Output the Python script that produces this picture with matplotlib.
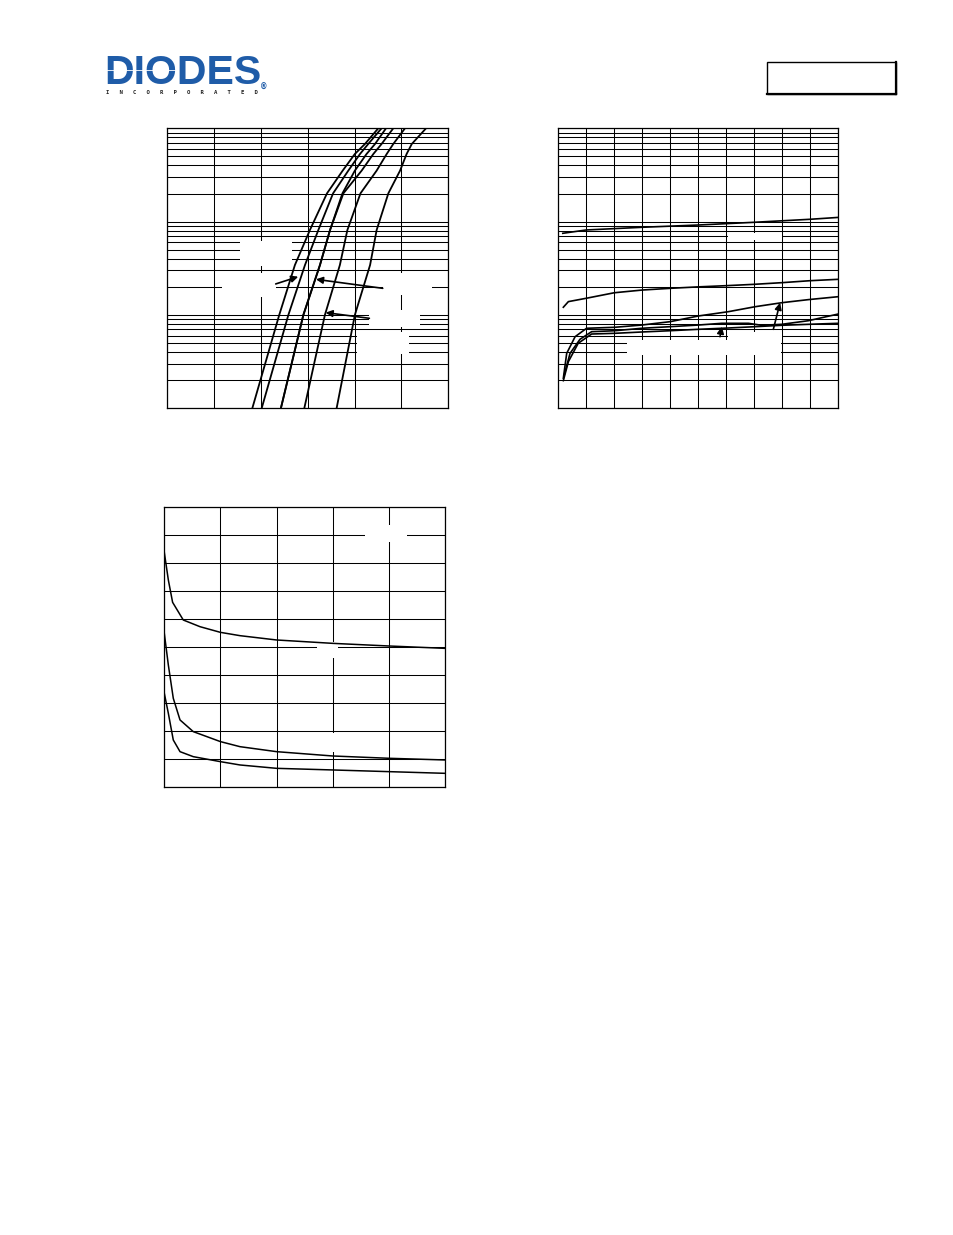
import matplotlib
matplotlib.use('Agg')
import matplotlib.pyplot as plt
from matplotlib.patches import Rectangle
from matplotlib.lines import Line2D
from matplotlib.ticker import LogLocator, MultipleLocator, NullFormatter

W, H = 954, 1235

# ---------------- data ----------------
# Chart 1: forward current (log) vs forward voltage, six curves
c1_current = [1, 10, 34.3, 81.3, 201, 352, 531, 679, 1000]
c1_vf_1 = [0.363, 0.478, 0.545, 0.609, 0.682, 0.749, 0.801, 0.844, 0.901]
c1_vf_2 = [0.403, 0.517, 0.588, 0.645, 0.708, 0.773, 0.823, 0.858, 0.915]
c1_vf_3 = [0.485, 0.581, 0.652, 0.695, 0.748, 0.801, 0.851, 0.887, 0.934]
c1_vf_4 = [0.485, 0.581, 0.652, 0.695, 0.752, 0.830, 0.880, 0.915, 0.965]
c1_vf_5 = [0.585, 0.673, 0.737, 0.769, 0.825, 0.894, 0.937, 0.965, 1.015]
c1_vf_6 = [0.723, 0.801, 0.866, 0.894, 0.944, 0.994, 1.022, 1.044, 1.105]

# Chart 2: five curves on log axis
c2_a_x = [1.6, 10, 30, 50, 70, 90, 100]
c2_a_y = [7.5, 8.14, 8.7, 9.2, 9.84, 10.6, 11.1]
c2_b_x = [1.8, 3.6, 10, 20, 30, 40, 50, 60, 70, 80, 90, 100]
c2_b_y = [1.21, 1.39, 1.51, 1.73, 1.85, 1.93, 2.0, 2.06, 2.13, 2.22, 2.33, 2.41]
c2_c_x = [1.8, 3.0, 6.0, 10.1, 20.2, 29.8, 39.9, 50, 60.7, 70.3, 79.8, 89.3, 100]
c2_c_y = [0.21, 0.388, 0.585, 0.72, 0.738, 0.78, 0.847, 0.975, 1.084, 1.226, 1.353, 1.46, 1.57]
c2_d_x = [2.1, 4.2, 7.75, 11.9, 20.2, 29.8, 39.9, 50, 58.4, 67.9, 72.6, 79.8, 89.3, 100]
c2_d_y = [0.227, 0.388, 0.549, 0.662, 0.678, 0.72, 0.749, 0.78, 0.814, 0.814, 0.775, 0.794, 0.868, 1.024]
c2_e_x = [1.8, 3.6, 7.1, 11.9, 20.2, 29.8, 39.9, 50, 60.7, 70.3, 79.8, 89.3, 100]
c2_e_y = [0.198, 0.316, 0.497, 0.625, 0.636, 0.657, 0.678, 0.702, 0.725, 0.749, 0.775, 0.794, 0.814]

# Chart 3: three decaying curves (linear axes)
c3_x_1 = [0, 0.36, 0.74, 1.69, 3.18, 5.0, 6.74, 10, 15, 20, 25]
c3_y_1 = [41.86, 36.94, 32.96, 29.81, 28.62, 27.61, 27.02, 26.25, 25.65, 25.18, 24.76]
c3_x_2 = [0, 0.36, 0.80, 1.40, 2.58, 5.0, 6.74, 10, 15, 20, 25]
c3_y_2 = [27.43, 21.79, 15.86, 12.0, 9.92, 8.14, 7.24, 6.35, 5.58, 5.17, 4.87]
c3_x_3 = [0, 0.36, 0.80, 1.40, 2.58, 5.0, 6.74, 10, 15, 20, 25]
c3_y_3 = [16.75, 13.18, 8.43, 6.35, 5.46, 4.57, 3.98, 3.38, 3.09, 2.79, 2.49]

# annotation arrows (tail, head) in data coordinates
c1_arrows = [((0.463, 21.5), (0.559, 25.7)),
             ((0.920, 19.3), (0.635, 24.1)),
             ((0.863, 9.21), (0.676, 10.6))]
c2_arrows = [((57.75, 0.585), (58.4, 0.749)),
             ((76.8, 0.702), (79.2, 1.353))]

# ---------------- figure ----------------
fig = plt.figure(figsize=(W / 100, H / 100), dpi=100)
fig.patch.set_facecolor('white')


def fig_rect(x0, y0, x1, y1):
    return [x0 / W, 1 - y1 / H, (x1 - x0) / W, (y1 - y0) / H]


def add_axes(x0, y0, x1, y1):
    ax = fig.add_axes(fig_rect(x0, y0, x1, y1))
    ax.set_axisbelow(True)
    for s in ax.spines.values():
        s.set_linewidth(0.9)
        s.set_color('black')
    ax.tick_params(which='both', length=0, labelbottom=False, labelleft=False)
    return ax


def white_boxes(ax, boxes):
    for (x0, y0, x1, y1) in boxes:
        r = fig_rect(x0, y0, x1, y1)
        ax.add_patch(Rectangle((r[0], r[1]), r[2], r[3], transform=fig.transFigure,
                               facecolor='white', edgecolor='none', zorder=1.5,
                               clip_on=False))


def arrows(ax, lst):
    for tail, head in lst:
        ax.annotate('', xy=head, xytext=tail,
                    arrowprops=dict(arrowstyle='-|>', color='black', lw=1.2,
                                    mutation_scale=10, shrinkA=0, shrinkB=0),
                    zorder=3)


grid_kw = dict(color='black', linewidth=0.75)

# Chart 1
ax1 = add_axes(167.3, 128.3, 448.3, 408.3)
ax1.set_yscale('log')
ax1.set_xlim(0, 1.2)
ax1.set_ylim(1, 1000)
ax1.xaxis.set_major_locator(MultipleLocator(0.2))
ax1.yaxis.set_major_locator(LogLocator(base=10))
ax1.yaxis.set_minor_locator(LogLocator(base=10, subs=range(2, 10)))
ax1.yaxis.set_minor_formatter(NullFormatter())
ax1.grid(which='major', axis='x', **grid_kw)
ax1.grid(which='both', axis='y', **grid_kw)
for vf in [c1_vf_1, c1_vf_2, c1_vf_3, c1_vf_4, c1_vf_5, c1_vf_6]:
    ax1.plot(vf, c1_current, color='black', lw=1.3, zorder=2)
white_boxes(ax1, [(240, 241, 291.7, 266), (221.7, 272.5, 275.7, 296.7),
                  (382.7, 273, 432.3, 295), (369.3, 310, 420, 326.5),
                  (356.7, 332, 409.3, 354)])
arrows(ax1, c1_arrows)

# Chart 2
ax2 = add_axes(558.3, 128.3, 838.3, 408.3)
ax2.set_yscale('log')
ax2.set_xlim(0, 100)
ax2.set_ylim(0.1, 100)
ax2.xaxis.set_major_locator(MultipleLocator(10))
ax2.yaxis.set_major_locator(LogLocator(base=10))
ax2.yaxis.set_minor_locator(LogLocator(base=10, subs=range(2, 10)))
ax2.yaxis.set_minor_formatter(NullFormatter())
ax2.grid(which='major', axis='x', **grid_kw)
ax2.grid(which='both', axis='y', **grid_kw)
for xs, ys in [(c2_a_x, c2_a_y), (c2_b_x, c2_b_y), (c2_c_x, c2_c_y),
               (c2_d_x, c2_d_y), (c2_e_x, c2_e_y)]:
    ax2.plot(xs, ys, color='black', lw=1.2, zorder=2)
white_boxes(ax2, [(728.3, 233, 782.3, 240.5), (627, 339.5, 781.5, 354.5),
                  (728, 332, 782, 339.5)])
arrows(ax2, c2_arrows)

# Chart 3
ax3 = add_axes(164.3, 506.7, 445, 787.3)
ax3.set_xlim(0, 25)
ax3.set_ylim(0, 50)
ax3.xaxis.set_major_locator(MultipleLocator(5))
ax3.yaxis.set_major_locator(MultipleLocator(5))
ax3.grid(which='major', **grid_kw)
for xs, ys in [(c3_x_1, c3_y_1), (c3_x_2, c3_y_2), (c3_x_3, c3_y_3)]:
    ax3.plot(xs, ys, color='black', lw=1.1, zorder=2)
white_boxes(ax3, [(365, 525, 406.7, 541.7), (316.7, 641.7, 338.3, 658.3),
                  (330, 732.5, 335.5, 752)])

# ---------------- header ----------------
logo_blue = '#1f5ca8'
fig.text(104 / W, 1 - 84.5 / H, 'DIODES', color=logo_blue, fontsize=29.5,
         fontweight='bold', family='Liberation Sans', ha='left', va='baseline')
fig.add_artist(Line2D([106 / W, 176 / W], [1 - 70 / H, 1 - 70 / H],
                      color='white', lw=0.6, transform=fig.transFigure, zorder=5))
fig.text(264 / W, 1 - 90 / H, '\u00ae', color=logo_blue, fontsize=5.5,
         fontweight='bold', ha='center', va='baseline')
fig.text(106.3 / W, 1 - 94.5 / H, '   '.join('INCORPORATED'), color='#222222',
         fontsize=4.04, fontweight='bold', family='DejaVu Sans Mono',
         ha='left', va='baseline')

r = fig_rect(767.3, 61.7, 896.3, 94)
fig.add_artist(Rectangle((r[0], r[1]), r[2], r[3], transform=fig.transFigure,
                         facecolor='none', edgecolor='black', lw=1.0))
fig.add_artist(Line2D([896.3 / W, 896.3 / W], [1 - 61.7 / H, 1 - 94 / H],
                      color='black', lw=1.6, transform=fig.transFigure))
fig.add_artist(Line2D([767.3 / W, 896.3 / W], [1 - 94 / H, 1 - 94 / H],
                      color='black', lw=1.6, transform=fig.transFigure))

fig.savefig('out.png', dpi=100, facecolor='white')
